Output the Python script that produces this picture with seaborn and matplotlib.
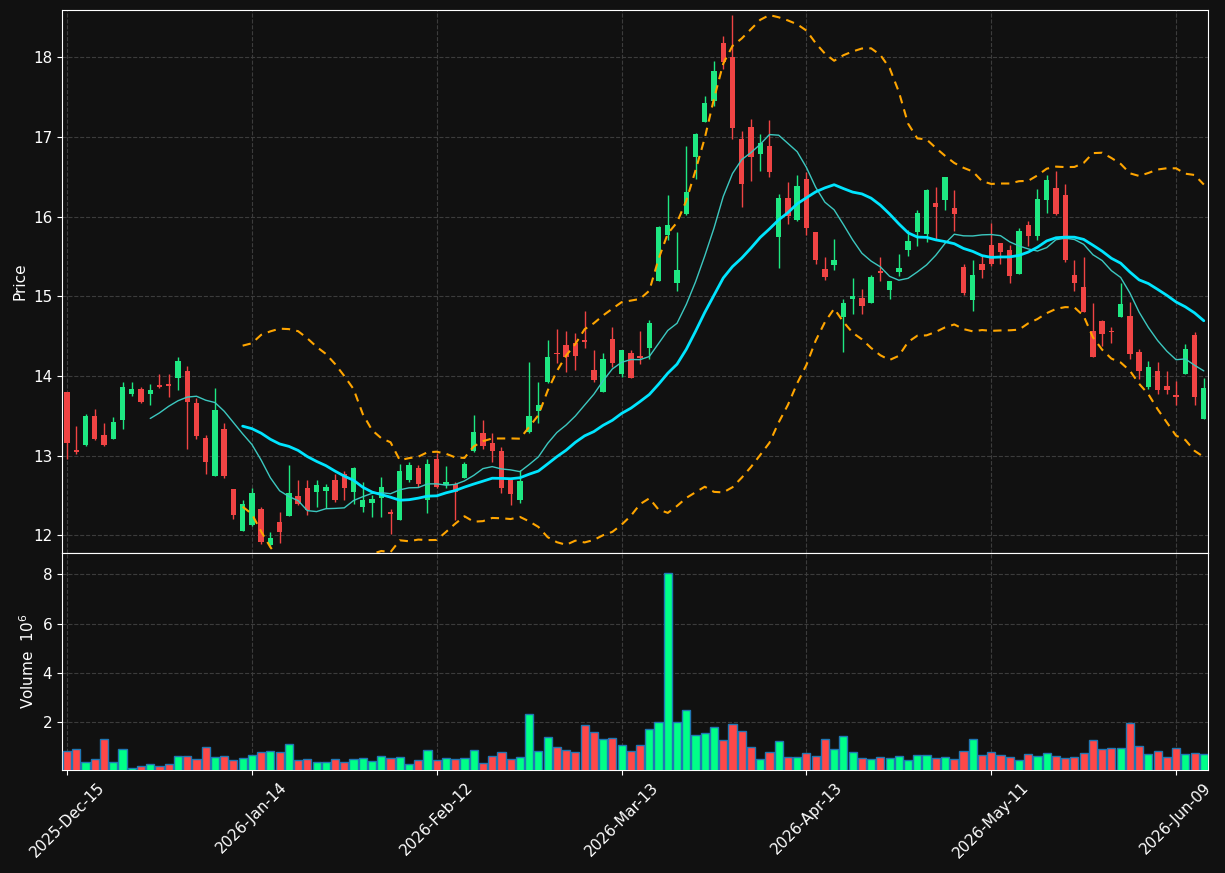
import pandas as pd
import matplotlib
matplotlib.use('Agg')
import matplotlib.pyplot as plt
import seaborn as sns
import numpy as np

# --- data ---
START = '2025-12-15'
END = '2026-06-12'
HOLIDAYS = ['2025-12-25', '2026-01-01', '2026-01-19', '2026-02-16', '2026-04-03', '2026-05-25']

opens = [13.80, 13.06, 13.13, 13.50, 13.26, 13.21, 13.45, 13.78, 13.84, 13.77,
         13.89, 13.90, 13.98, 14.06, 13.66, 13.22, 12.74, 13.33, 12.58, 12.06,
         12.13, 12.33, 11.88, 12.17, 12.24, 12.49, 12.59, 12.55, 12.56, 12.70,
         12.77, 12.54, 12.36, 12.41, 12.47, 12.28, 12.19, 12.70, 12.84, 12.44,
         12.96, 12.63, 12.64, 12.72, 13.06, 13.28, 13.16, 13.06, 12.70, 12.44,
         13.30, 13.56, 13.92, 14.29, 14.39, 14.41, 14.45, 14.08, 13.80, 14.46,
         14.03, 14.29, 14.25, 14.35, 15.19, 15.77, 15.17, 16.03, 16.75, 17.19,
         17.45, 18.18, 18.00, 16.97, 17.12, 16.79, 16.89, 15.74, 16.23, 15.96,
         16.47, 15.81, 15.34, 15.39, 14.74, 14.96, 14.98, 14.92, 15.32, 15.08,
         15.31, 15.58, 15.81, 15.78, 16.17, 16.21, 16.11, 15.37, 14.95, 15.41,
         15.64, 15.67, 15.58, 15.28, 15.89, 15.75, 16.21, 16.36, 16.27, 15.27,
         15.11, 14.57, 14.69, 14.57, 14.74, 14.75, 14.30, 13.86, 14.06, 13.87,
         13.76, 14.03, 14.52, 13.46]
highs = [13.80, 13.37, 13.52, 13.59, 13.41, 13.49, 13.92, 13.93, 13.86, 13.90,
         14.03, 14.03, 14.24, 14.13, 13.72, 13.26, 13.85, 13.41, 12.58, 12.44,
         12.60, 12.36, 12.04, 12.30, 12.88, 12.69, 12.69, 12.69, 12.64, 12.77,
         12.81, 12.86, 12.67, 12.51, 12.73, 12.33, 12.90, 12.92, 12.88, 12.96,
         13.03, 12.87, 12.67, 12.92, 13.51, 13.45, 13.29, 13.11, 12.71, 12.82,
         14.17, 13.93, 14.45, 14.59, 14.56, 14.54, 14.82, 14.33, 14.29, 14.61,
         14.33, 14.33, 14.56, 14.70, 15.88, 16.27, 15.81, 16.88, 17.05, 17.51,
         17.95, 18.26, 18.53, 17.07, 17.22, 17.03, 17.21, 16.28, 16.43, 16.52,
         16.56, 15.81, 15.49, 15.72, 14.96, 15.23, 15.09, 15.27, 15.49, 15.19,
         15.53, 15.83, 16.08, 16.34, 16.37, 16.50, 16.33, 15.40, 15.45, 15.50,
         15.92, 15.67, 15.64, 15.85, 15.95, 16.34, 16.52, 16.57, 16.41, 15.46,
         15.49, 14.91, 14.70, 14.61, 15.17, 14.93, 14.34, 14.19, 14.17, 14.06,
         13.94, 14.40, 14.55, 13.98]
lows = [12.96, 13.02, 13.12, 13.20, 13.12, 13.21, 13.33, 13.75, 13.66, 13.64,
        13.85, 13.74, 13.82, 13.09, 13.21, 12.77, 12.74, 12.72, 12.20, 12.06,
        12.12, 11.89, 11.86, 11.90, 12.24, 12.38, 12.26, 12.36, 12.35, 12.42,
        12.44, 12.40, 12.30, 12.23, 12.23, 12.02, 12.19, 12.67, 12.61, 12.28,
        12.60, 12.60, 12.19, 12.72, 13.05, 13.09, 12.92, 12.53, 12.38, 12.41,
        13.29, 13.41, 13.91, 14.16, 14.05, 14.08, 14.35, 13.92, 13.80, 14.11,
        13.99, 13.98, 14.15, 14.21, 15.19, 15.70, 15.07, 16.02, 16.47, 17.19,
        17.39, 17.85, 16.97, 16.12, 16.45, 16.57, 16.50, 15.36, 15.91, 15.95,
        15.77, 15.40, 15.21, 15.33, 14.30, 14.78, 14.78, 14.92, 15.19, 14.96,
        15.26, 15.51, 15.63, 15.68, 15.72, 16.08, 15.82, 15.02, 14.82, 15.23,
        15.38, 15.40, 15.17, 15.28, 15.63, 15.71, 16.04, 16.02, 15.43, 15.06,
        14.80, 14.24, 14.37, 14.41, 14.74, 14.21, 13.96, 13.84, 13.78, 13.78,
        13.64, 14.02, 13.64, 13.46]
closes = [13.16, 13.05, 13.50, 13.21, 13.14, 13.42, 13.86, 13.84, 13.67, 13.82,
          13.86, 13.88, 14.19, 13.67, 13.25, 12.92, 13.57, 12.75, 12.25, 12.40,
          12.53, 11.92, 11.97, 12.04, 12.53, 12.40, 12.32, 12.63, 12.61, 12.44,
          12.60, 12.84, 12.45, 12.46, 12.61, 12.27, 12.81, 12.88, 12.64, 12.90,
          12.61, 12.67, 12.55, 12.90, 13.30, 13.12, 13.06, 12.59, 12.52, 12.68,
          13.50, 13.63, 14.24, 14.27, 14.24, 14.25, 14.43, 13.95, 14.21, 14.16,
          14.33, 13.98, 14.23, 14.66, 15.87, 15.89, 15.33, 16.31, 17.04, 17.42,
          17.82, 17.94, 17.11, 16.41, 16.75, 16.92, 16.56, 16.23, 16.01, 16.38,
          15.85, 15.45, 15.24, 15.45, 14.91, 15.00, 14.88, 15.24, 15.29, 15.19,
          15.36, 15.69, 16.04, 16.33, 16.12, 16.49, 16.03, 15.04, 15.27, 15.33,
          15.40, 15.55, 15.26, 15.82, 15.75, 16.22, 16.46, 16.03, 15.46, 15.17,
          14.80, 14.24, 14.53, 14.55, 14.90, 14.27, 14.06, 14.11, 13.82, 13.83,
          13.73, 14.34, 13.73, 13.85]
# volume in units of 10^6
volumes = [0.82, 0.90, 0.37, 0.49, 1.31, 0.37, 0.90, 0.13, 0.21, 0.29,
           0.21, 0.29, 0.62, 0.62, 0.49, 0.98, 0.58, 0.62, 0.45, 0.53,
           0.66, 0.78, 0.82, 0.78, 1.10, 0.45, 0.49, 0.37, 0.37, 0.49,
           0.37, 0.49, 0.53, 0.41, 0.62, 0.53, 0.58, 0.29, 0.45, 0.86,
           0.45, 0.53, 0.49, 0.53, 0.86, 0.33, 0.62, 0.78, 0.49, 0.58,
           2.33, 0.82, 1.39, 0.98, 0.86, 0.78, 1.88, 1.59, 1.31, 1.35,
           1.06, 0.82, 1.06, 1.72, 2.00, 8.07, 2.00, 2.49, 1.47, 1.55,
           1.80, 1.27, 1.92, 1.63, 0.98, 0.48, 0.78, 1.23, 0.58, 0.58,
           0.74, 0.62, 1.31, 0.90, 1.43, 0.78, 0.53, 0.49, 0.58, 0.53,
           0.62, 0.45, 0.66, 0.66, 0.53, 0.58, 0.49, 0.82, 1.31, 0.66,
           0.78, 0.66, 0.58, 0.45, 0.70, 0.62, 0.74, 0.62, 0.53, 0.58,
           0.74, 1.27, 0.90, 0.94, 0.94, 1.96, 1.02, 0.70, 0.82, 0.58,
           0.94, 0.70, 0.74, 0.70]

# --- style ---
BG = '#111111'
UP_C, DOWN_C = '#1ee882', '#f04444'
VOL_UP, VOL_DOWN = '#00ff88', '#ff4848'


def main():
    dates = pd.bdate_range(START, END, freq='C', holidays=HOLIDAYS)
    df = pd.DataFrame({'Open': opens, 'High': highs, 'Low': lows,
                       'Close': closes, 'Volume': volumes}, index=dates)
    df['x'] = np.arange(len(df))
    df['Dir'] = np.where(df['Close'] >= df['Open'], 'up', 'down')

    # moving averages / bollinger bands from the closes
    df['MA10'] = df['Close'].rolling(10).mean()
    df['MA20'] = df['Close'].rolling(20).mean()
    sd = df['Close'].rolling(20).std(ddof=0)
    df['Upper'] = df['MA20'] + 2 * sd
    df['Lower'] = df['MA20'] - 2 * sd

    sns.set_style('dark', {'axes.facecolor': BG, 'figure.facecolor': BG,
                           'axes.edgecolor': 'white', 'grid.color': '#3c3c3c',
                           'text.color': 'white', 'axes.labelcolor': 'white',
                           'xtick.color': 'white', 'ytick.color': 'white',
                           'xtick.bottom': True, 'ytick.left': True})
    plt.rcParams['font.family'] = ['DejaVu Sans']

    fig = plt.figure(figsize=(12.25, 8.73), dpi=100)
    ax = fig.add_axes([0.0506, 0.3666, 0.9355, 0.6219])
    axv = fig.add_axes([0.0506, 0.1180, 0.9355, 0.2486], sharex=ax)

    # ---------------------------------------------------------
    # candles
    # ---------------------------------------------------------
    colors = np.where(df['Dir'] == 'up', UP_C, DOWN_C)
    ax.vlines(df['x'], df['Low'], df['High'], colors=colors, linewidth=1, zorder=2)
    body_lo = df[['Open', 'Close']].min(axis=1)
    body_h = (df['Close'] - df['Open']).abs().clip(lower=0.02)
    ax.bar(df['x'], body_h, bottom=body_lo, width=0.58, color=colors,
           linewidth=0, zorder=3)

    # lines
    sns.lineplot(data=df, x='x', y='MA10', ax=ax, color='#3cc8c0', linewidth=1, zorder=4)
    sns.lineplot(data=df, x='x', y='MA20', ax=ax, color='#00e5ff', linewidth=2, zorder=4)
    for col in ['Upper', 'Lower']:
        sns.lineplot(data=df, x='x', y=col, ax=ax, color='#ffa500', linewidth=1.5,
                     linestyle=(0, (4, 3)), zorder=4)

    ax.set_ylim(11.78, 18.59)
    ax.set_ylabel('Price', fontsize=11)
    ax.set_xlabel('')
    ax.grid(True, linestyle='--', linewidth=0.8)
    ax.tick_params(axis='x', labelbottom=False, length=0)
    ax.tick_params(axis='y', labelsize=11)

    # ---------------------------------------------------------
    # volume
    # ---------------------------------------------------------
    sns.barplot(data=df, x='x', y='Volume', hue='Dir', ax=axv, native_scale=True,
                palette={'up': VOL_UP, 'down': VOL_DOWN}, width=0.88, dodge=False,
                saturation=1, edgecolor='#1f77b4', linewidth=1, legend=False, zorder=3)
    axv.set_ylim(0.3 * df['Volume'].min(), 1.1 * df['Volume'].max())
    axv.set_yticks([2, 4, 6, 8])
    axv.set_ylabel(r'Volume  $10^6$', fontsize=11)
    axv.grid(True, linestyle='--', linewidth=0.8)
    axv.tick_params(axis='y', labelsize=11)

    ticks = df['x'].values[::20]
    axv.set_xticks(ticks)
    axv.set_xticklabels(df.index[::20].strftime('%Y-%b-%d'), rotation=45, fontsize=11)
    axv.set_xlabel('')
    axv.set_xlim(-0.55, len(df) - 0.55)

    for a in (ax, axv):
        for s in a.spines.values():
            s.set_color('white')

    fig.savefig('out.png', dpi=100, facecolor=BG)


if __name__ == '__main__':
    main()
